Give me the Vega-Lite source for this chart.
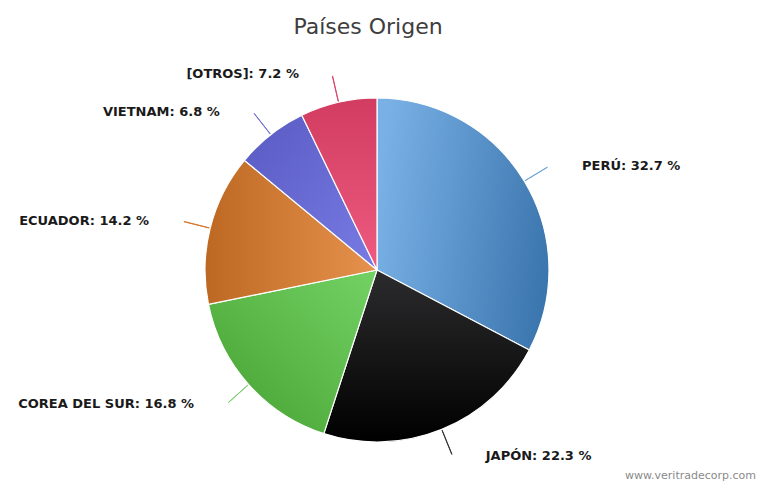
{
  "$schema": "https://vega.github.io/schema/vega-lite/v6.json",
  "width": 754,
  "height": 424,
  "autosize": {"type": "none"},
  "padding": {"top": 58, "left": 0, "right": 5, "bottom": 0},
  "background": "white",
  "title": {"text": "Países Origen", "font": "DejaVu Sans", "fontSize": 22, "fontWeight": "normal", "color": "#3d3d3d", "anchor": "middle", "offset": 19, "dx": -9},
  "config": {"view": {"stroke": null}},
  "data": {"values": [
    {"pais": "PERÚ", "pct": 32.7, "orden": 1},
    {"pais": "JAPÓN", "pct": 22.3, "orden": 2},
    {"pais": "COREA DEL SUR", "pct": 16.8, "orden": 3},
    {"pais": "ECUADOR", "pct": 14.2, "orden": 4},
    {"pais": "VIETNAM", "pct": 6.8, "orden": 5},
    {"pais": "[OTROS]", "pct": 7.2, "orden": 6}
  ]},
  "transform": [
    {"window": [{"op": "sum", "field": "pct", "as": "cum"}], "sort": [{"field": "orden"}], "frame": [null, 0]},
    {"calculate": "datum.cum - datum.pct", "as": "inicio"},
    {"calculate": "datum.cum - datum.pct / 2", "as": "medio"},
    {"calculate": "datum.medio + 0.02", "as": "medio2"},
    {"calculate": "datum.pais + ': ' + format(datum.pct, '.1f') + ' %'", "as": "etiqueta"}
  ],
  "layer": [
    {
      "transform": [{"filter": "datum.orden == 1"}],
      "mark": {"type": "arc", "outerRadius": 172, "stroke": "white", "strokeWidth": 1.2,
        "fill": {"gradient": "linear", "x1": 0, "y1": 0.4, "x2": 1, "y2": 0.6, "stops": [{"offset": 0, "color": "#79b1e6"}, {"offset": 1, "color": "#3c76ae"}]}},
      "encoding": {
        "theta": {"field": "inicio", "type": "quantitative", "scale": {"domain": [0, 100], "range": [0, 6.283185307]}},
        "theta2": {"field": "cum"}
      }
    },
    {
      "transform": [{"filter": "datum.orden == 2"}],
      "mark": {"type": "arc", "outerRadius": 172, "stroke": "white", "strokeWidth": 1.2,
        "fill": {"gradient": "linear", "x1": 0.5, "y1": 0, "x2": 0.5, "y2": 1, "stops": [{"offset": 0, "color": "#2c2c2e"}, {"offset": 1, "color": "#000000"}]}},
      "encoding": {
        "theta": {"field": "inicio", "type": "quantitative"},
        "theta2": {"field": "cum"}
      }
    },
    {
      "transform": [{"filter": "datum.orden == 3"}],
      "mark": {"type": "arc", "outerRadius": 172, "stroke": "white", "strokeWidth": 1.2,
        "fill": {"gradient": "linear", "x1": 1, "y1": 0, "x2": 0, "y2": 1, "stops": [{"offset": 0, "color": "#74d265"}, {"offset": 1, "color": "#44a02f"}]}},
      "encoding": {
        "theta": {"field": "inicio", "type": "quantitative"},
        "theta2": {"field": "cum"}
      }
    },
    {
      "transform": [{"filter": "datum.orden == 4"}],
      "mark": {"type": "arc", "outerRadius": 172, "stroke": "white", "strokeWidth": 1.2,
        "fill": {"gradient": "linear", "x1": 1, "y1": 0.5, "x2": 0, "y2": 0.5, "stops": [{"offset": 0, "color": "#e6924e"}, {"offset": 1, "color": "#bd6822"}]}},
      "encoding": {
        "theta": {"field": "inicio", "type": "quantitative"},
        "theta2": {"field": "cum"}
      }
    },
    {
      "transform": [{"filter": "datum.orden == 5"}],
      "mark": {"type": "arc", "outerRadius": 172, "stroke": "white", "strokeWidth": 1.2,
        "fill": {"gradient": "linear", "x1": 1, "y1": 1, "x2": 0, "y2": 0, "stops": [{"offset": 0, "color": "#787be3"}, {"offset": 1, "color": "#595bc3"}]}},
      "encoding": {
        "theta": {"field": "inicio", "type": "quantitative"},
        "theta2": {"field": "cum"}
      }
    },
    {
      "transform": [{"filter": "datum.orden == 6"}],
      "mark": {"type": "arc", "outerRadius": 172, "stroke": "white", "strokeWidth": 1.2,
        "fill": {"gradient": "linear", "x1": 0.5, "y1": 1, "x2": 0.5, "y2": 0, "stops": [{"offset": 0, "color": "#ef5b80"}, {"offset": 1, "color": "#d13c60"}]}},
      "encoding": {
        "theta": {"field": "inicio", "type": "quantitative"},
        "theta2": {"field": "cum"}
      }
    },
    {
      "mark": {"type": "arc", "innerRadius": 173, "outerRadius": 199, "fillOpacity": 0, "strokeWidth": 1},
      "encoding": {
        "theta": {"field": "medio", "type": "quantitative"},
        "theta2": {"field": "medio2"},
        "stroke": {"field": "pais", "type": "nominal", "legend": null,
          "scale": {"domain": ["PERÚ", "JAPÓN", "COREA DEL SUR", "ECUADOR", "VIETNAM", "[OTROS]"],
                    "range": ["#6fa6dc", "#333333", "#77cc6a", "#d7772a", "#6f6fd6", "#d9476b"]}}
      }
    },
    {
      "transform": [{"filter": "datum.orden <= 2"}],
      "mark": {"type": "text", "radius": 201, "align": "left", "baseline": "middle", "dx": 33, "font": "DejaVu Sans", "fontSize": 13, "fontWeight": "bold", "color": "#1a1a1a"},
      "encoding": {
        "theta": {"field": "medio", "type": "quantitative"},
        "text": {"field": "etiqueta"}
      }
    },
    {
      "transform": [{"filter": "datum.orden > 2"}],
      "mark": {"type": "text", "radius": 201, "align": "right", "baseline": "middle", "dx": -33, "font": "DejaVu Sans", "fontSize": 13, "fontWeight": "bold", "color": "#1a1a1a"},
      "encoding": {
        "theta": {"field": "medio", "type": "quantitative"},
        "text": {"field": "etiqueta"}
      }
    },
    {
      "transform": [{"filter": "datum.orden == 1"}],
      "mark": {"type": "text", "align": "right", "baseline": "bottom", "dx": 2, "dy": -1, "font": "DejaVu Sans", "fontSize": 11, "color": "#8a8a8a"},
      "encoding": {
        "x": {"value": "width"},
        "y": {"value": "height"},
        "text": {"value": "www.veritradecorp.com"}
      }
    }
  ]
}
